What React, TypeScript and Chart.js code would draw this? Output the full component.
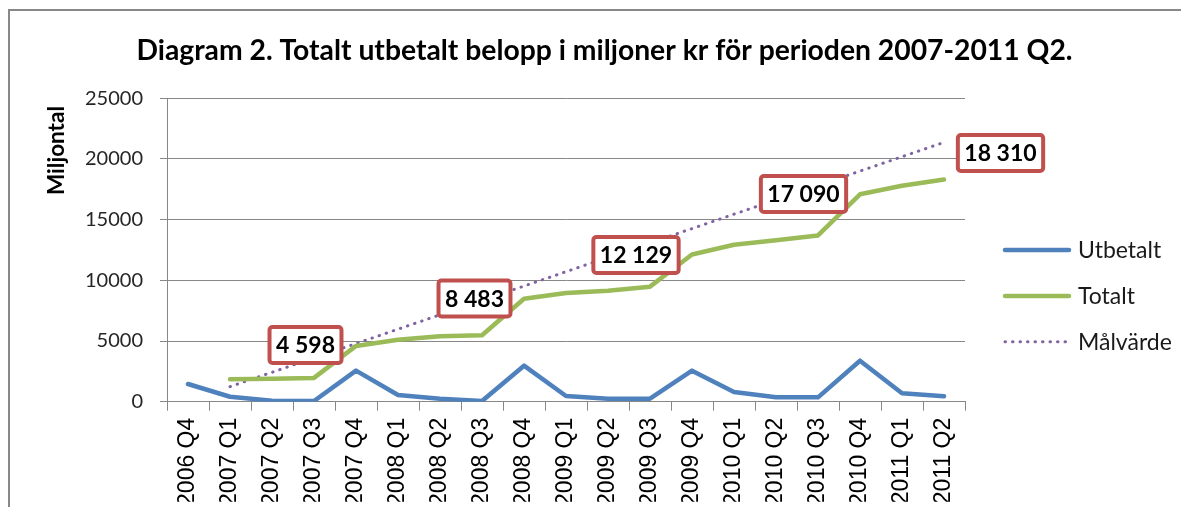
import React, { useEffect, useRef } from "react";
import { Chart, registerables } from "chart.js";

Chart.register(...registerables);

// ---------- data ----------
const categories = [
  "2006 Q4", "2007 Q1", "2007 Q2", "2007 Q3", "2007 Q4",
  "2008 Q1", "2008 Q2", "2008 Q3", "2008 Q4",
  "2009 Q1", "2009 Q2", "2009 Q3", "2009 Q4",
  "2010 Q1", "2010 Q2", "2010 Q3", "2010 Q4",
  "2011 Q1", "2011 Q2",
];

const utbetalt = [1460, 410, 80, 60, 2560, 550, 250, 50, 2970, 470, 250, 250, 2560, 800, 360, 360, 3380, 690, 440];

const totalt = [null, 1850, 1900, 1960, 4598, 5100, 5400, 5480, 8483, 8950, 9150, 9480, 12129, 12930, 13300, 13700, 17090, 17800, 18310];

// target line: start and end values, straight line drawn between them
const malvarde = [null, 1240, null, null, null, null, null, null, null, null, null, null, null, null, null, null, null, null, 21370];

const yTickValues = [0, 5000, 10000, 15000, 20000, 25000];

const seriesNames = ["Utbetalt", "Totalt", "Målvärde"];

const calloutTexts = ["4 598", "8 483", "12 129", "17 090", "18 310"];
const calloutCategories = ["2007 Q3", "2008 Q3", "2009 Q3", "2010 Q3", "2011 Q2"];

const titleText = "Diagram 2. Totalt utbetalt belopp i miljoner kr för perioden 2007-2011 Q2.";
const yAxisTitle = "Miljontal";

// ---------- layout / style (kept apart from data) ----------
const CALLOUT_POS = [
  { dx: -8.5, yAt: 4670 },
  { dx: -7.5, yAt: 8500 },
  { dx: -14, yAt: 12090 },
  { dx: -14.5, yAt: 17110 },
  { dx: 56.5, yAt: 20490 },
];
const COLORS = { blue: "#4F81BD", green: "#9BBB59", purple: "#8064A2", red: "#C0504D", grid: "#878787", frame: "#888888" };
const CANVAS_W = 1181;
const CANVAS_H = 499;

const framePlugin = {
  id: "frame",
  beforeDraw(chart: any) {
    const ctx = chart.ctx as CanvasRenderingContext2D;
    ctx.save();
    ctx.fillStyle = "#fff";
    ctx.fillRect(0, 0, chart.width, chart.height);
    ctx.strokeStyle = COLORS.frame;
    ctx.lineWidth = 2;
    ctx.beginPath();
    ctx.moveTo(1, chart.height);
    ctx.lineTo(1, 2);
    ctx.lineTo(chart.width, 2);
    ctx.stroke();
    ctx.restore();
  },
};

const overlayPlugin = {
  id: "overlay",
  afterDraw(chart: any) {
    const ctx = chart.ctx as CanvasRenderingContext2D;
    const xs = chart.scales.x;
    const ys = chart.scales.y;
    ctx.save();

    // title
    ctx.fillStyle = "#000";
    ctx.font = "bold 28.3px Lato";
    ctx.textAlign = "center";
    ctx.textBaseline = "alphabetic";
    ctx.fillText(titleText, 596.5, 52);

    // y-axis title
    ctx.save();
    ctx.translate(49, 142.5);
    ctx.rotate(-Math.PI / 2);
    ctx.font = "bold 22.5px Lato";
    ctx.textAlign = "center";
    ctx.textBaseline = "middle";
    ctx.fillText(yAxisTitle, 0, 0);
    ctx.restore();

    // legend
    const legendColors = [COLORS.blue, COLORS.green, COLORS.purple];
    const legendY = [242, 288, 333.7];
    seriesNames.forEach((name, i) => {
      ctx.save();
      ctx.strokeStyle = legendColors[i];
      ctx.lineCap = "round";
      if (i === 2) {
        ctx.lineWidth = 3;
        ctx.setLineDash([0.5, 7]);
      } else {
        ctx.lineWidth = 4.5;
      }
      ctx.beginPath();
      ctx.moveTo(997, legendY[i]);
      ctx.lineTo(1061, legendY[i]);
      ctx.stroke();
      ctx.restore();
      ctx.fillStyle = "#1a1a1a";
      ctx.font = "23px Lato";
      ctx.textAlign = "left";
      ctx.textBaseline = "middle";
      ctx.fillText(name, 1070, legendY[i] + 1);
    });

    // callouts
    ctx.font = "bold 23px Lato";
    calloutTexts.forEach((txt, i) => {
      const idx = categories.indexOf(calloutCategories[i]);
      const cx = xs.getPixelForValue(idx) + CALLOUT_POS[i].dx;
      const cy = ys.getPixelForValue(CALLOUT_POS[i].yAt);
      const tw = ctx.measureText(txt).width;
      const w = tw + 13;
      const h = 36;
      ctx.beginPath();
      (ctx as any).roundRect(cx - w / 2, cy - h / 2, w, h, 3);
      ctx.fillStyle = "#fff";
      ctx.fill();
      ctx.lineWidth = 4;
      ctx.strokeStyle = COLORS.red;
      ctx.stroke();
      ctx.fillStyle = "#000";
      ctx.textAlign = "center";
      ctx.textBaseline = "middle";
      ctx.fillText(txt, cx, cy + 1);
    });

    ctx.restore();
  },
};

export default function App() {
  const canvasRef = useRef<HTMLCanvasElement | null>(null);

  useEffect(() => {
    if (!canvasRef.current) return;
    const chart = new Chart(canvasRef.current, {
      type: "line",
      data: {
        labels: categories,
        datasets: [
          {
            label: seriesNames[0],
            data: utbetalt,
            borderColor: COLORS.blue,
            backgroundColor: COLORS.blue,
            borderWidth: 4.5,
            pointRadius: 0,
            borderCapStyle: "round",
            borderJoinStyle: "round",
            tension: 0,
          },
          {
            label: seriesNames[1],
            data: totalt,
            borderColor: COLORS.green,
            backgroundColor: COLORS.green,
            borderWidth: 4.5,
            pointRadius: 0,
            borderCapStyle: "round",
            borderJoinStyle: "round",
            tension: 0,
          },
          {
            label: seriesNames[2],
            data: malvarde,
            borderColor: COLORS.purple,
            backgroundColor: COLORS.purple,
            borderWidth: 3,
            borderDash: [0.5, 7],
            borderCapStyle: "round",
            pointRadius: 0,
            spanGaps: true,
            tension: 0,
          },
        ] as any,
      },
      options: {
        animation: false,
        responsive: true,
        maintainAspectRatio: false,
        devicePixelRatio: 1,
        layout: { padding: { top: 90.3, right: CANVAS_W - 957, bottom: 5.3, left: 0 } },
        plugins: {
          legend: { display: false },
          title: { display: false },
          tooltip: { enabled: false },
        },
        scales: {
          x: {
            type: "category",
            offset: true,
            grid: {
              offset: true,
              drawOnChartArea: false,
              drawTicks: true,
              tickLength: 9,
              color: COLORS.grid,
            },
            border: { display: true, color: COLORS.grid, width: 1 },
            ticks: {
              autoSkip: false,
              minRotation: 90,
              maxRotation: 90,
              padding: 7,
              color: "#000",
              font: { family: "'Liberation Sans', Arial, sans-serif", size: 23 },
            },
            afterFit: (s: any) => {
              s.height = 100;
            },
          },
          y: {
            min: 0,
            max: 25000,
            afterBuildTicks: (s: any) => {
              s.ticks = yTickValues.map((v) => ({ value: v }));
            },
            grid: {
              color: COLORS.grid,
              lineWidth: 1,
              drawTicks: true,
              tickLength: 7,
            },
            border: { display: true, color: COLORS.grid, width: 1 },
            ticks: {
              padding: 17,
              color: "#262626",
              font: { family: "Lato", size: 20 },
              callback: (v: any) => String(v),
            },
            afterFit: (s: any) => {
              s.width = 159;
            },
          },
        },
      } as any,
      plugins: [framePlugin, overlayPlugin],
    });
    return () => chart.destroy();
  }, []);

  return (
    <div style={{ position: "relative", width: CANVAS_W, height: CANVAS_H }}>
      <canvas ref={canvasRef} />
    </div>
  );
}
